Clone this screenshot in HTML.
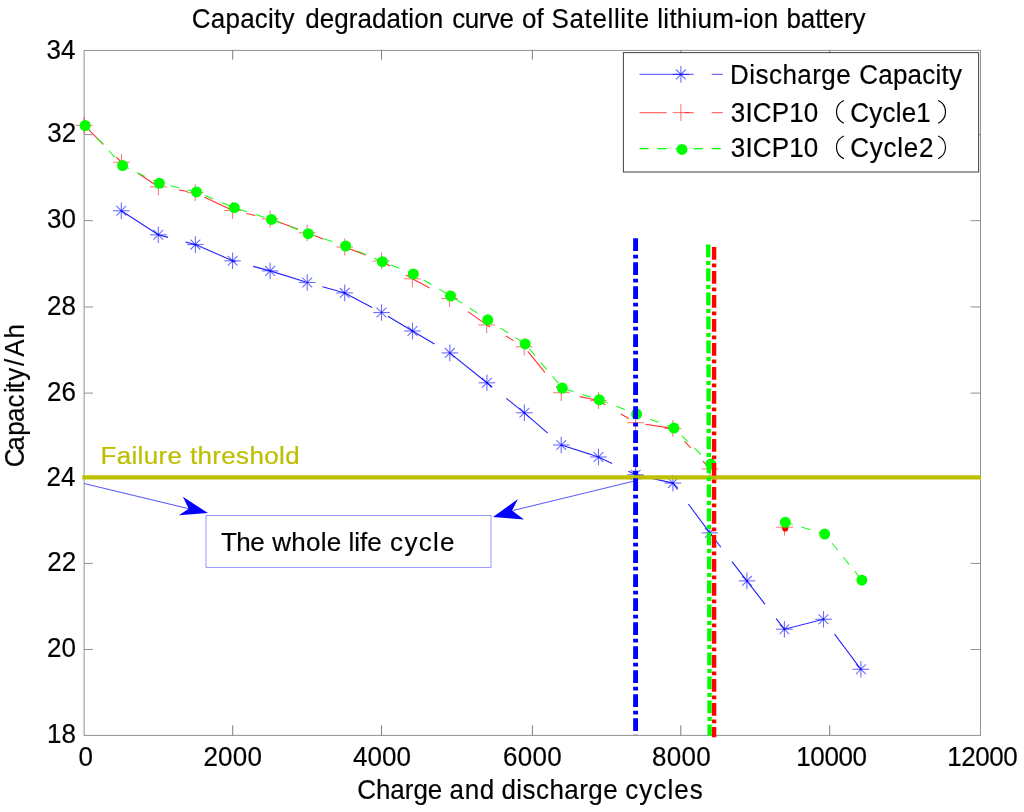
<!DOCTYPE html>
<html><head><meta charset="utf-8"><title>Capacity degradation curve of Satellite lithium-ion battery</title>
<style>
html,body{margin:0;padding:0;background:#fff;}
body{width:1024px;height:812px;overflow:hidden;font-family:"Liberation Sans",sans-serif;}
svg{display:block;}
text{font-family:"Liberation Sans",sans-serif;fill:#000;white-space:pre;stroke:#000;stroke-width:0.18px;}
</style></head><body>
<svg width="1024" height="812" viewBox="0 0 1024 812">
<rect width="1024" height="812" fill="#fff"/>
<g id="all" style="opacity:0.9999">
<rect x="84.1" y="50.4" width="896.4" height="685.0" stroke="#929292" stroke-width="1" fill="none"/>
<path d="M232.70 735.4V725.3M232.70 50.4V59.7M381.50 735.4V725.3M381.50 50.4V59.7M532.40 735.4V725.3M532.40 50.4V59.7M680.80 735.4V725.3M680.80 50.4V59.7M829.70 735.4V725.3M829.70 50.4V59.7" stroke="#707070" stroke-width="0.9" fill="none"/>
<path d="M84.1 649.50H92.9M980.5 649.50H970.5M84.1 563.40H92.9M980.5 563.40H970.5M84.1 478.20H92.9M980.5 478.20H970.5M84.1 393.10H92.9M980.5 393.10H970.5M84.1 306.95H92.9M980.5 306.95H970.5M84.1 220.65H92.9M980.5 220.65H970.5M84.1 134.65H92.9M980.5 134.65H970.5" stroke="#858585" stroke-width="0.9" fill="none"/>
<text transform="translate(78.55,765.60) scale(1,1.045)" font-size="26" style="letter-spacing:0.000px;">0</text>
<text transform="translate(203.40,765.60) scale(1,1.045)" font-size="26" style="letter-spacing:0.233px;">2000</text>
<text transform="translate(353.05,765.60) scale(1,1.045)" font-size="26" style="letter-spacing:0.017px;">4000</text>
<text transform="translate(503.10,765.60) scale(1,1.045)" font-size="26" style="letter-spacing:0.267px;">6000</text>
<text transform="translate(652.10,765.60) scale(1,1.045)" font-size="26" style="letter-spacing:0.267px;">8000</text>
<text transform="translate(796.35,765.60) scale(1,1.045)" font-size="26" style="letter-spacing:-0.438px;">10000</text>
<text transform="translate(947.15,765.60) scale(1,1.045)" font-size="26" style="letter-spacing:-0.438px;">12000</text>
<text transform="translate(47.05,743.20) scale(1,1.045)" font-size="26" style="letter-spacing:0.000px;">18</text>
<text transform="translate(47.05,657.30) scale(1,1.045)" font-size="26" style="letter-spacing:0.000px;">20</text>
<text transform="translate(47.30,571.20) scale(1,1.045)" font-size="26" style="letter-spacing:0.000px;">22</text>
<text transform="translate(46.55,486.00) scale(1,1.045)" font-size="26" style="letter-spacing:0.000px;">24</text>
<text transform="translate(47.05,400.90) scale(1,1.045)" font-size="26" style="letter-spacing:0.000px;">26</text>
<text transform="translate(47.05,314.75) scale(1,1.045)" font-size="26" style="letter-spacing:0.000px;">28</text>
<text transform="translate(47.05,228.45) scale(1,1.045)" font-size="26" style="letter-spacing:0.000px;">30</text>
<text transform="translate(47.30,142.45) scale(1,1.045)" font-size="26" style="letter-spacing:0.000px;">32</text>
<text transform="translate(46.55,58.70) scale(1,1.045)" font-size="26" style="letter-spacing:0.000px;">34</text>
<text transform="translate(191.85,28.30) scale(1,1.045)" font-size="26" style="letter-spacing:0.221px;">Capacity</text>
<text transform="translate(305.30,28.30) scale(1,1.045)" font-size="26" style="letter-spacing:0.055px;">degradation</text>
<text transform="translate(452.20,28.30) scale(1,1.045)" font-size="26" style="letter-spacing:-0.425px;">curve</text>
<text transform="translate(522.10,28.30) scale(1,1.045)" font-size="26" style="letter-spacing:-0.050px;">of</text>
<text transform="translate(551.45,28.30) scale(1,1.045)" font-size="26" style="letter-spacing:0.650px;">Satellite</text>
<text transform="translate(657.35,28.30) scale(1,1.045)" font-size="26" style="letter-spacing:0.250px;">lithium-ion</text>
<text transform="translate(786.45,28.30) scale(1,1.045)" font-size="26" style="letter-spacing:-0.067px;">battery</text>
<text transform="translate(357.25,798.60) scale(1,1.045)" font-size="26" style="letter-spacing:-0.050px;">Charge</text>
<text transform="translate(449.60,798.60) scale(1,1.045)" font-size="26" style="letter-spacing:0.625px;">and</text>
<text transform="translate(501.40,798.60) scale(1,1.045)" font-size="26" style="letter-spacing:0.450px;">discharge</text>
<text transform="translate(625.30,798.60) scale(1,1.045)" font-size="26" style="letter-spacing:1.050px;">cycles</text>
<text transform="translate(23.9,0) rotate(-90) scale(1,1.04)" font-size="26" x="-467.25 -450.70 -435.65 -422.10 -407.50 -393.10 -388.80 -380.70 -366.00 -356.70 -338.55" y="0">Capacity/Ah</text>
<polyline points="121.3,210.8 158.3,234.8 195.4,244.6 232.6,260.8 270.1,270.9 307.2,282.5 344.7,292.9 381.5,312.5 412.5,331.0 449.8,352.9 486.9,382.8 524.4,412.8 561.2,445.0 598.5,457.0 635.6,474.7 672.9,483.1 709.8,532.9 746.9,580.9 784.4,629.2 823.5,619.3 860.9,669.3" fill="none" stroke="#2020ff" stroke-width="1.1" stroke-dasharray="54.15 18.05"/>
<polyline points="84.2,125.4 121.5,162.2 158.4,186.8 195.2,192.7 232.5,210.5 270.1,218.8 307.2,232.8 344.7,247.0 381.5,260.9 412.4,278.8 449.5,298.5 486.7,324.9 524.2,346.8 561.3,392.7 598.5,400.6 635.6,422.7 672.9,428.5 710.0,468.9" fill="none" stroke="#ff3030" stroke-width="1.1" stroke-dasharray="27.08 18.05 9.03 18.05"/>
<polyline points="85.1,125.5 122.6,165.5 159.4,183.3 196.5,191.9 234.3,207.7 271.4,219.4 308.2,233.7 345.7,246.0 382.4,261.7 413.4,273.9 450.6,295.9 487.7,319.8 525.2,343.9 562.3,388.0 599.3,399.8 636.6,414.1 673.9,428.0 710.8,464.1" fill="none" stroke="#14ff14" stroke-width="1.05" stroke-dasharray="9.03 9.03" stroke-dashoffset="1.5"/>
<polyline points="785.3,522.3 824.7,534.1 861.9,580.2" fill="none" stroke="#14ff14" stroke-width="1.05" stroke-dasharray="9.03 9.03" stroke-dashoffset="1.3"/>
<g transform="translate(121.3,210.8)" fill="none" stroke="#0000ff" stroke-opacity="0.58" stroke-width="1.1"><path d="M-8.3 0H8.3"/><path d="M0 -8.3V8.3"/><path d="M-4.9 -4.9L4.9 4.9"/><path d="M-4.9 4.9L4.9 -4.9"/></g>
<g transform="translate(158.3,234.8)" fill="none" stroke="#0000ff" stroke-opacity="0.58" stroke-width="1.1"><path d="M-8.3 0H8.3"/><path d="M0 -8.3V8.3"/><path d="M-4.9 -4.9L4.9 4.9"/><path d="M-4.9 4.9L4.9 -4.9"/></g>
<g transform="translate(195.4,244.6)" fill="none" stroke="#0000ff" stroke-opacity="0.58" stroke-width="1.1"><path d="M-8.3 0H8.3"/><path d="M0 -8.3V8.3"/><path d="M-4.9 -4.9L4.9 4.9"/><path d="M-4.9 4.9L4.9 -4.9"/></g>
<g transform="translate(232.6,260.8)" fill="none" stroke="#0000ff" stroke-opacity="0.58" stroke-width="1.1"><path d="M-8.3 0H8.3"/><path d="M0 -8.3V8.3"/><path d="M-4.9 -4.9L4.9 4.9"/><path d="M-4.9 4.9L4.9 -4.9"/></g>
<g transform="translate(270.1,270.9)" fill="none" stroke="#0000ff" stroke-opacity="0.58" stroke-width="1.1"><path d="M-8.3 0H8.3"/><path d="M0 -8.3V8.3"/><path d="M-4.9 -4.9L4.9 4.9"/><path d="M-4.9 4.9L4.9 -4.9"/></g>
<g transform="translate(307.2,282.5)" fill="none" stroke="#0000ff" stroke-opacity="0.58" stroke-width="1.1"><path d="M-8.3 0H8.3"/><path d="M0 -8.3V8.3"/><path d="M-4.9 -4.9L4.9 4.9"/><path d="M-4.9 4.9L4.9 -4.9"/></g>
<g transform="translate(344.7,292.9)" fill="none" stroke="#0000ff" stroke-opacity="0.58" stroke-width="1.1"><path d="M-8.3 0H8.3"/><path d="M0 -8.3V8.3"/><path d="M-4.9 -4.9L4.9 4.9"/><path d="M-4.9 4.9L4.9 -4.9"/></g>
<g transform="translate(381.5,312.5)" fill="none" stroke="#0000ff" stroke-opacity="0.58" stroke-width="1.1"><path d="M-8.3 0H8.3"/><path d="M0 -8.3V8.3"/><path d="M-4.9 -4.9L4.9 4.9"/><path d="M-4.9 4.9L4.9 -4.9"/></g>
<g transform="translate(412.5,331.0)" fill="none" stroke="#0000ff" stroke-opacity="0.58" stroke-width="1.1"><path d="M-8.3 0H8.3"/><path d="M0 -8.3V8.3"/><path d="M-4.9 -4.9L4.9 4.9"/><path d="M-4.9 4.9L4.9 -4.9"/></g>
<g transform="translate(449.8,352.9)" fill="none" stroke="#0000ff" stroke-opacity="0.58" stroke-width="1.1"><path d="M-8.3 0H8.3"/><path d="M0 -8.3V8.3"/><path d="M-4.9 -4.9L4.9 4.9"/><path d="M-4.9 4.9L4.9 -4.9"/></g>
<g transform="translate(486.9,382.8)" fill="none" stroke="#0000ff" stroke-opacity="0.58" stroke-width="1.1"><path d="M-8.3 0H8.3"/><path d="M0 -8.3V8.3"/><path d="M-4.9 -4.9L4.9 4.9"/><path d="M-4.9 4.9L4.9 -4.9"/></g>
<g transform="translate(524.4,412.8)" fill="none" stroke="#0000ff" stroke-opacity="0.58" stroke-width="1.1"><path d="M-8.3 0H8.3"/><path d="M0 -8.3V8.3"/><path d="M-4.9 -4.9L4.9 4.9"/><path d="M-4.9 4.9L4.9 -4.9"/></g>
<g transform="translate(561.2,445.0)" fill="none" stroke="#0000ff" stroke-opacity="0.58" stroke-width="1.1"><path d="M-8.3 0H8.3"/><path d="M0 -8.3V8.3"/><path d="M-4.9 -4.9L4.9 4.9"/><path d="M-4.9 4.9L4.9 -4.9"/></g>
<g transform="translate(598.5,457.0)" fill="none" stroke="#0000ff" stroke-opacity="0.58" stroke-width="1.1"><path d="M-8.3 0H8.3"/><path d="M0 -8.3V8.3"/><path d="M-4.9 -4.9L4.9 4.9"/><path d="M-4.9 4.9L4.9 -4.9"/></g>
<g transform="translate(635.6,474.7)" fill="none" stroke="#0000ff" stroke-opacity="0.58" stroke-width="1.1"><path d="M-8.3 0H8.3"/><path d="M0 -8.3V8.3"/><path d="M-4.9 -4.9L4.9 4.9"/><path d="M-4.9 4.9L4.9 -4.9"/></g>
<g transform="translate(672.9,483.1)" fill="none" stroke="#0000ff" stroke-opacity="0.58" stroke-width="1.1"><path d="M-8.3 0H8.3"/><path d="M0 -8.3V8.3"/><path d="M-4.9 -4.9L4.9 4.9"/><path d="M-4.9 4.9L4.9 -4.9"/></g>
<g transform="translate(709.8,532.9)" fill="none" stroke="#0000ff" stroke-opacity="0.58" stroke-width="1.1"><path d="M-8.3 0H8.3"/><path d="M0 -8.3V8.3"/><path d="M-4.9 -4.9L4.9 4.9"/><path d="M-4.9 4.9L4.9 -4.9"/></g>
<g transform="translate(746.9,580.9)" fill="none" stroke="#0000ff" stroke-opacity="0.58" stroke-width="1.1"><path d="M-8.3 0H8.3"/><path d="M0 -8.3V8.3"/><path d="M-4.9 -4.9L4.9 4.9"/><path d="M-4.9 4.9L4.9 -4.9"/></g>
<g transform="translate(784.4,629.2)" fill="none" stroke="#0000ff" stroke-opacity="0.58" stroke-width="1.1"><path d="M-8.3 0H8.3"/><path d="M0 -8.3V8.3"/><path d="M-4.9 -4.9L4.9 4.9"/><path d="M-4.9 4.9L4.9 -4.9"/></g>
<g transform="translate(823.5,619.3)" fill="none" stroke="#0000ff" stroke-opacity="0.58" stroke-width="1.1"><path d="M-8.3 0H8.3"/><path d="M0 -8.3V8.3"/><path d="M-4.9 -4.9L4.9 4.9"/><path d="M-4.9 4.9L4.9 -4.9"/></g>
<g transform="translate(860.9,669.3)" fill="none" stroke="#0000ff" stroke-opacity="0.58" stroke-width="1.1"><path d="M-8.3 0H8.3"/><path d="M0 -8.3V8.3"/><path d="M-4.9 -4.9L4.9 4.9"/><path d="M-4.9 4.9L4.9 -4.9"/></g>
<g transform="translate(84.2,125.4)" fill="none" stroke="#ff0000" stroke-opacity="0.52" stroke-width="1.1"><path d="M-8.4 0H8.4"/><path d="M0 -8.4V8.4"/></g>
<g transform="translate(121.5,162.2)" fill="none" stroke="#ff0000" stroke-opacity="0.52" stroke-width="1.1"><path d="M-8.4 0H8.4"/><path d="M0 -8.4V8.4"/></g>
<g transform="translate(158.4,186.8)" fill="none" stroke="#ff0000" stroke-opacity="0.52" stroke-width="1.1"><path d="M-8.4 0H8.4"/><path d="M0 -8.4V8.4"/></g>
<g transform="translate(195.2,192.7)" fill="none" stroke="#ff0000" stroke-opacity="0.52" stroke-width="1.1"><path d="M-8.4 0H8.4"/><path d="M0 -8.4V8.4"/></g>
<g transform="translate(232.5,210.5)" fill="none" stroke="#ff0000" stroke-opacity="0.52" stroke-width="1.1"><path d="M-8.4 0H8.4"/><path d="M0 -8.4V8.4"/></g>
<g transform="translate(270.1,218.8)" fill="none" stroke="#ff0000" stroke-opacity="0.52" stroke-width="1.1"><path d="M-8.4 0H8.4"/><path d="M0 -8.4V8.4"/></g>
<g transform="translate(307.2,232.8)" fill="none" stroke="#ff0000" stroke-opacity="0.52" stroke-width="1.1"><path d="M-8.4 0H8.4"/><path d="M0 -8.4V8.4"/></g>
<g transform="translate(344.7,247.0)" fill="none" stroke="#ff0000" stroke-opacity="0.52" stroke-width="1.1"><path d="M-8.4 0H8.4"/><path d="M0 -8.4V8.4"/></g>
<g transform="translate(381.5,260.9)" fill="none" stroke="#ff0000" stroke-opacity="0.52" stroke-width="1.1"><path d="M-8.4 0H8.4"/><path d="M0 -8.4V8.4"/></g>
<g transform="translate(412.4,278.8)" fill="none" stroke="#ff0000" stroke-opacity="0.52" stroke-width="1.1"><path d="M-8.4 0H8.4"/><path d="M0 -8.4V8.4"/></g>
<g transform="translate(449.5,298.5)" fill="none" stroke="#ff0000" stroke-opacity="0.52" stroke-width="1.1"><path d="M-8.4 0H8.4"/><path d="M0 -8.4V8.4"/></g>
<g transform="translate(486.7,324.9)" fill="none" stroke="#ff0000" stroke-opacity="0.52" stroke-width="1.1"><path d="M-8.4 0H8.4"/><path d="M0 -8.4V8.4"/></g>
<g transform="translate(524.2,346.8)" fill="none" stroke="#ff0000" stroke-opacity="0.52" stroke-width="1.1"><path d="M-8.4 0H8.4"/><path d="M0 -8.4V8.4"/></g>
<g transform="translate(561.3,392.7)" fill="none" stroke="#ff0000" stroke-opacity="0.52" stroke-width="1.1"><path d="M-8.4 0H8.4"/><path d="M0 -8.4V8.4"/></g>
<g transform="translate(598.5,400.6)" fill="none" stroke="#ff0000" stroke-opacity="0.52" stroke-width="1.1"><path d="M-8.4 0H8.4"/><path d="M0 -8.4V8.4"/></g>
<g transform="translate(635.6,422.7)" fill="none" stroke="#ff0000" stroke-opacity="0.52" stroke-width="1.1"><path d="M-8.4 0H8.4"/><path d="M0 -8.4V8.4"/></g>
<g transform="translate(672.9,428.5)" fill="none" stroke="#ff0000" stroke-opacity="0.52" stroke-width="1.1"><path d="M-8.4 0H8.4"/><path d="M0 -8.4V8.4"/></g>
<g transform="translate(710.0,468.9)" fill="none" stroke="#ff0000" stroke-opacity="0.52" stroke-width="1.1"><path d="M-8.4 0H8.4"/><path d="M0 -8.4V8.4"/></g>
<g transform="translate(784.5,527.2)" fill="none" stroke="#ff0000" stroke-opacity="0.52" stroke-width="1.1"><path d="M-8.4 0H8.4"/><path d="M0 -8.4V8.4"/></g>
<circle cx="785.2" cy="528.5" r="3.1" fill="#ff0000"/>
<circle cx="85.1" cy="125.5" r="5.5" fill="#00ff00"/>
<circle cx="122.6" cy="165.5" r="5.5" fill="#00ff00"/>
<circle cx="159.4" cy="183.3" r="5.5" fill="#00ff00"/>
<circle cx="196.5" cy="191.9" r="5.5" fill="#00ff00"/>
<circle cx="234.3" cy="207.7" r="5.5" fill="#00ff00"/>
<circle cx="271.4" cy="219.4" r="5.5" fill="#00ff00"/>
<circle cx="308.2" cy="233.7" r="5.5" fill="#00ff00"/>
<circle cx="345.7" cy="246.0" r="5.5" fill="#00ff00"/>
<circle cx="382.4" cy="261.7" r="5.5" fill="#00ff00"/>
<circle cx="413.4" cy="273.9" r="5.5" fill="#00ff00"/>
<circle cx="450.6" cy="295.9" r="5.5" fill="#00ff00"/>
<circle cx="487.7" cy="319.8" r="5.5" fill="#00ff00"/>
<circle cx="525.2" cy="343.9" r="5.5" fill="#00ff00"/>
<circle cx="562.3" cy="388.0" r="5.5" fill="#00ff00"/>
<circle cx="599.3" cy="399.8" r="5.5" fill="#00ff00"/>
<circle cx="636.6" cy="414.1" r="5.5" fill="#00ff00"/>
<circle cx="673.9" cy="428.0" r="5.5" fill="#00ff00"/>
<circle cx="710.8" cy="464.1" r="5.5" fill="#00ff00"/>
<circle cx="785.3" cy="522.3" r="5.5" fill="#00ff00"/>
<circle cx="824.7" cy="534.1" r="5.5" fill="#00ff00"/>
<circle cx="861.9" cy="580.2" r="5.5" fill="#00ff00"/>
<g stroke="#5a5aff" stroke-width="1.05" fill="none"><path d="M84 483.4L190 508.9"/><path d="M633.3 481.2L513 510.6"/></g>
<rect x="206" y="515.4" width="285" height="52" stroke="#8c8cff" stroke-width="0.9" fill="none"/>
<path d="M207.9 513.1L182.9 496.8L188.7 508.7L178.9 515.3Z" fill="#0000ff"/>
<path d="M493 516.9L518 498.9L512.1 510.6L524 519.4Z" fill="#0000ff"/>
<text x="220.90" y="550.60" font-size="26" style="letter-spacing:-0.550px;">The</text>
<text x="272.20" y="550.60" font-size="26" style="letter-spacing:0.263px;">whole</text>
<text x="348.45" y="550.60" font-size="26" style="letter-spacing:0.050px;">life</text>
<text x="390.10" y="550.60" font-size="26" style="letter-spacing:1.300px;">cycle</text>
<path d="M82.3 477.35H980.8" stroke="#bfbf00" stroke-width="4.3" fill="none"/>
<text transform="translate(100.55,464.30) scale(1,0.955)" font-size="26" style="letter-spacing:0.317px;fill:#bfbf00;stroke:#bfbf00;stroke-width:0.25px;">Failure</text>
<text transform="translate(189.90,464.30) scale(1,0.955)" font-size="26" style="letter-spacing:0.356px;fill:#bfbf00;stroke:#bfbf00;stroke-width:0.25px;">threshold</text>
<path d="M635.6 238.3V735" stroke="#0000ff" stroke-width="4.9" stroke-dasharray="12.7 3.7 3.9 3.7" fill="none"/>
<path d="M708.2 244.6L709.6 735.4" stroke="#00ff00" stroke-width="4.4" stroke-dasharray="12.7 3.7 3.9 3.7" fill="none"/>
<path d="M714.1 247V737.3" stroke="#ff0000" stroke-width="4.4" stroke-dasharray="12.7 3.7 3.9 3.7" fill="none"/>
<rect x="623.4" y="52.6" width="355.2" height="119.4" fill="#fff" stroke="#484848" stroke-width="1.05"/>
<path d="M639.5 74.4H722.8" stroke="#6e6eff" stroke-width="1.2" stroke-dasharray="54.15 18.05"/>
<g transform="translate(680.9,74.4)" fill="none" stroke="#0000ff" stroke-opacity="0.58" stroke-width="1.1"><path d="M-8.3 0H8.3"/><path d="M0 -8.3V8.3"/><path d="M-4.9 -4.9L4.9 4.9"/><path d="M-4.9 4.9L4.9 -4.9"/></g>
<path d="M639.5 112.6H722.8" stroke="#ff6e6e" stroke-width="1.2" stroke-dasharray="27.08 18.05 9.03 18.05"/>
<g transform="translate(680.9,112.6)" fill="none" stroke="#ff0000" stroke-opacity="0.52" stroke-width="1.1"><path d="M-8.4 0H8.4"/><path d="M0 -8.4V8.4"/></g>
<path d="M639.5 148.7H721.6" stroke="#00ff00" stroke-width="1.2" stroke-dasharray="9.03 9.03"/>
<circle cx="682.0" cy="149.4" r="5.5" fill="#00ff00"/>
<text transform="translate(730.05,83.50) scale(1,1.030)" font-size="26" style="letter-spacing:0.463px;">Discharge</text>
<text transform="translate(859.25,83.50) scale(1,1.030)" font-size="26" style="letter-spacing:0.221px;">Capacity</text>
<text transform="translate(730.80,121.80) scale(1,1.030)" font-size="26" style="letter-spacing:0.150px;">3ICP10</text>
<text transform="translate(850.35,121.80) scale(1,1.030)" font-size="26" style="letter-spacing:0.200px;">Cycle1</text>
<text transform="translate(730.80,157.40) scale(1,1.030)" font-size="26" style="letter-spacing:0.150px;">3ICP10</text>
<text transform="translate(850.35,157.40) scale(1,1.030)" font-size="26" style="letter-spacing:0.740px;">Cycle2</text>
<path d="M843.9 100.5A12.4 12.4 0 0 0 843.9 123.2" stroke="#000" stroke-width="1.15" fill="none"/>
<path d="M938.1 100.5A12.4 12.4 0 0 1 938.1 123.2" stroke="#000" stroke-width="1.15" fill="none"/>
<path d="M843.9 136.0A12.4 12.4 0 0 0 843.9 158.7" stroke="#000" stroke-width="1.15" fill="none"/>
<path d="M938.1 136.0A12.4 12.4 0 0 1 938.1 158.7" stroke="#000" stroke-width="1.15" fill="none"/>
</g></svg></body></html>
